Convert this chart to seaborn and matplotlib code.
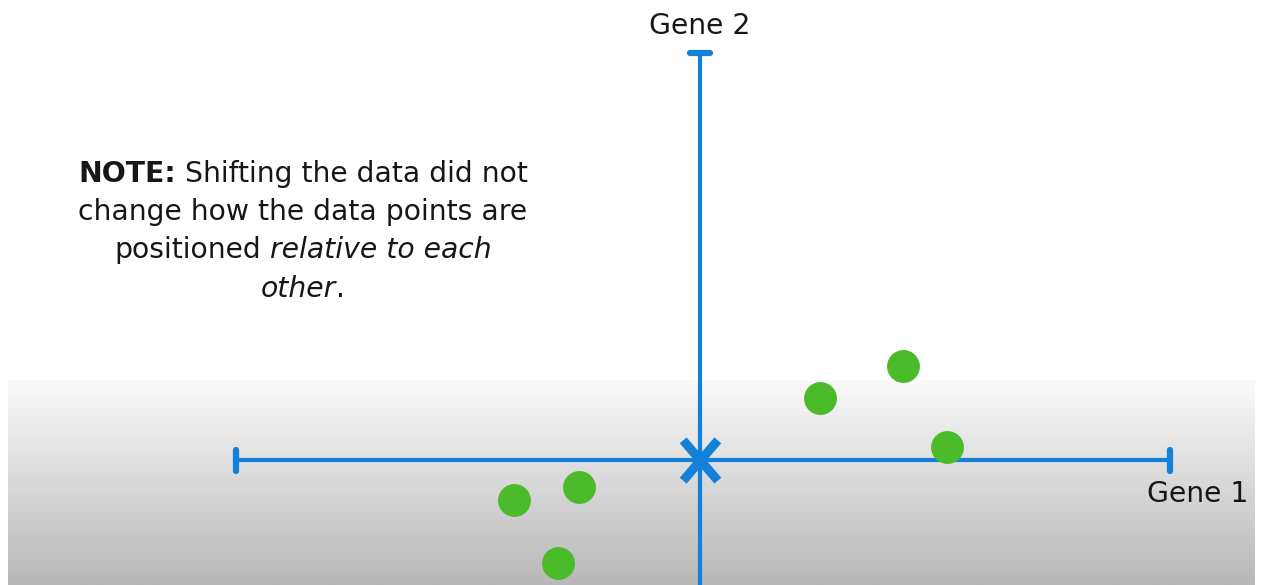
import numpy as np
import pandas as pd
import matplotlib
matplotlib.use("Agg")
import matplotlib.pyplot as plt
from matplotlib.path import Path
import seaborn as sns

# Sample coordinates after centring on the mean (Gene 1, Gene 2)
gene1 = [1.20, 2.03, 2.47, -1.86, -1.21, -1.42]
gene2 = [0.62, 0.94, 0.13, -0.40, -0.27, -1.03]

# Axis extents
gene1_axis = [-4.64, 4.70]
gene2_axis = [-1.30, 4.07]
center = [0.0, 0.0]

x_label = "Gene 1"
y_label = "Gene 2"
note_lines = [
    [("NOTE:", "bold", "normal"), (" Shifting the data did not", "normal", "normal")],
    [("change how the data points are", "normal", "normal")],
    [("positioned", "normal", "normal"), (" relative to each", "normal", "italic")],
    [("other", "normal", "italic"), (".", "normal", "normal")],
]

BLUE = "#1380DA"
GREEN = "#4BBA2B"
TEXT = "#161616"
FS = 20.3

sns.set_style("white")
plt.rcParams["font.family"] = ["DejaVu Sans"]

df = pd.DataFrame({"Gene 1": gene1, "Gene 2": gene2})

fig = plt.figure(figsize=(12.64, 5.85), dpi=100)
fig.patch.set_facecolor("white")
ax = fig.add_axes([0, 0, 1, 1])
ax.set_axis_off()

# soft grey floor behind the lower part of the plot
grad = np.linspace(250, 184, 200)[:, None] / 255.0
grad_rgb = np.repeat(grad[:, :, None], 3, axis=2)
ax.imshow(grad_rgb, extent=[-6.92, 5.55, -1.25, 0.80], aspect="auto",
          interpolation="bilinear", zorder=0)

# Gene 1 axis with end caps
ax.plot(gene1_axis, [0, 0], color=BLUE, lw=3.0, solid_capstyle="butt", zorder=2)
for xe in gene1_axis:
    ax.plot([xe, xe], [-0.105, 0.105], color=BLUE, lw=4.5, solid_capstyle="round", zorder=2)

# Gene 2 axis with top cap
ax.plot([0, 0], gene2_axis, color=BLUE, lw=3.0, solid_capstyle="butt", zorder=2)
ax.plot([-0.10, 0.10], [gene2_axis[1], gene2_axis[1]], color=BLUE, lw=4.5,
        solid_capstyle="round", zorder=2)

# mean marker at the origin: a cross slightly taller than wide
cross = Path([(-0.86, -1.0), (0.86, 1.0), (-0.86, 1.0), (0.86, -1.0)],
             [Path.MOVETO, Path.LINETO, Path.MOVETO, Path.LINETO])
ax.plot([center[0]], [center[1]], marker=cross, markersize=29, mew=6.5,
        color=BLUE, linestyle="none", zorder=3)

# data points
sns.scatterplot(data=df, x="Gene 1", y="Gene 2", ax=ax, s=560, color=GREEN,
                linewidth=0, legend=False, zorder=4)

ax.set_xlim(-7.00, 5.64)
ax.set_ylim(-1.25, 4.60)
ax.set_axis_off()

# axis names
ax.text(0.0, 4.26, y_label, ha="center", va="baseline", fontsize=FS, color=TEXT)
ax.text(4.975, -0.415, x_label, ha="center", va="baseline", fontsize=FS, color=TEXT)

# note block with mixed styling, each line centred
renderer = fig.canvas.get_renderer()
px_per_unit = ax.transData.transform((1, 0))[0] - ax.transData.transform((0, 0))[0]
note_cx = -3.97
baselines = [2.785, 2.40, 2.015, 1.63]
for segs, yb in zip(note_lines, baselines):
    items = []
    for s, w, st in segs:
        t = ax.text(0, yb, s, fontsize=FS, fontweight=w, fontstyle=st,
                    color=TEXT, ha="left", va="baseline")
        width = t.get_window_extent(renderer).width / px_per_unit
        items.append((t, width))
    total = sum(w for _, w in items)
    x = note_cx - total / 2
    for t, w in items:
        t.set_x(x)
        x += w

fig.savefig("out.png", dpi=100)
